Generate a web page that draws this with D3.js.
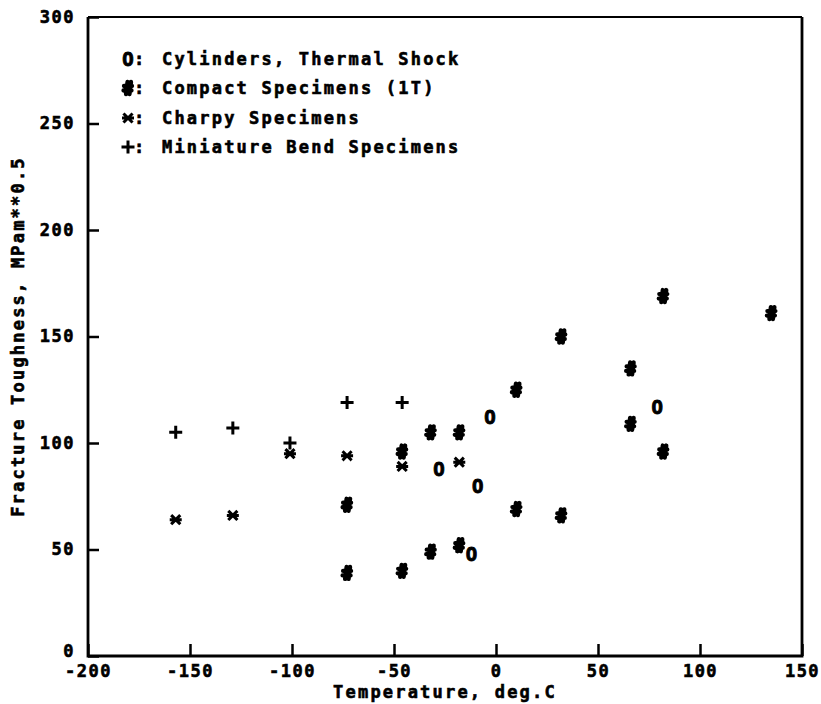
<!DOCTYPE html>
<html>
<head>
<meta charset="utf-8">
<script src="https://cdn.jsdelivr.net/npm/d3@7"></script>
<style>
  body { margin: 0; background: #fff; }
  text { font-family: "DejaVu Sans Mono", monospace; font-weight: bold; fill: #000; stroke: #000; stroke-width: 0.6px; }
</style>
</head>
<body>
<div id="chart"></div>
<script>
// Values (temperature in deg.C, toughness in MPa m^0.5)
const cylinderTemp = [-3, -28, -9, -12, 79];
const cylinderK = [112, 88, 80, 48, 117];

const compactTemp = [-73, -73, -46, -46, -32, -32, -18, -18, 10, 10, 32, 32, 66, 66, 82, 82, 135];
const compactK = [39, 71, 40, 96, 49, 105, 52, 105, 69, 125, 66, 150, 109, 135, 96, 169, 161];

const charpyTemp = [-157, -129, -101, -73, -46, -18];
const charpyK = [64, 66, 95, 94, 89, 91];

const miniTemp = [-157, -129, -101, -73, -46];
const miniK = [105, 107, 100, 119, 119];

const xTicks = [-200, -150, -100, -50, 0, 50, 100, 150];
const yTicks = [0, 50, 100, 150, 200, 250, 300];

const legendLabels = ["Cylinders, Thermal Shock", "Compact Specimens (1T)", "Charpy Specimens", "Miniature Bend Specimens"];
const legendKeys = ["O", "#", "*", "+"];

const width = 821, height = 704;
const plotLeft = 88, plotRight = 802, plotTop = 17, plotBottom = 656;

const svg = d3.select("#chart").append("svg")
  .attr("width", width)
  .attr("height", height);

const x = d3.scaleLinear().domain([-200, 150]).range([plotLeft, plotRight]);
const y = d3.scaleLinear().domain([0, 300]).range([plotBottom, plotTop]);

const tickFont = g => g.selectAll("text")
  .style("font-size", "17px")
  .style("letter-spacing", "1.5px");

// axes: ticks point into the plot
svg.append("g")
  .attr("transform", `translate(0,${plotBottom})`)
  .call(d3.axisBottom(x).tickValues(xTicks).tickSize(-12).tickSizeOuter(0).tickPadding(9).tickFormat(d => d))
  .call(g => g.select(".domain").remove())
  .call(g => g.selectAll("line").attr("stroke", "#000").attr("stroke-width", 2.5))
  .call(tickFont);

svg.append("g")
  .attr("transform", `translate(${plotLeft},0)`)
  .call(d3.axisLeft(y).tickValues(yTicks).tickSize(-11).tickSizeOuter(0).tickPadding(13))
  .call(g => g.select(".domain").remove())
  .call(g => g.selectAll("line").attr("stroke", "#000").attr("stroke-width", 2.5))
  .call(tickFont)
  // the "0" label sits just above the "-200" label, as in the original
  .call(g => g.selectAll(".tick").filter(d => d === 0).select("text").attr("dy", "0em"));

// frame
svg.append("path")
  .attr("d", `M${plotLeft},${plotTop}H${plotRight}`)
  .attr("stroke", "#000").attr("stroke-width", 2);
svg.append("path")
  .attr("d", `M${plotLeft},${plotTop}V${plotBottom}H${plotRight}V${plotTop}`)
  .attr("fill", "none")
  .attr("stroke", "#000").attr("stroke-width", 2.8);

// axis titles
svg.append("text")
  .attr("x", (plotLeft + plotRight) / 2)
  .attr("y", 698)
  .attr("text-anchor", "middle")
  .style("font-size", "17px")
  .style("letter-spacing", "2.2px")
  .text("Temperature, deg.C");

svg.append("text")
  .attr("transform", `translate(24,${(plotTop + plotBottom) / 2}) rotate(-90)`)
  .attr("text-anchor", "middle")
  .style("font-size", "17px")
  .style("letter-spacing", "2.2px")
  .text("Fracture Toughness, MPam**0.5");

// marker shapes
const markerPath = {
  "#": "M-0.5,-6L-2,6M3,-6L1.5,6M-4,-2H4M-4.5,2.5H3.5",
  "*": "M-3.5,-3.5L3.5,3.5M3.5,-3.5L-3.5,3.5M-4.5,0H4.5",
  "+": "M-5,0H5M0,-5V5"
};

function drawMarker(sel, key, px, py) {
  if (key === "O") {
    sel.append("text")
      .attr("x", px).attr("y", py)
      .attr("text-anchor", "middle")
      .attr("dominant-baseline", "central")
      .style("font-size", "19px")
      .style("stroke-width", "0.9px")
      .text("O");
  } else {
    sel.append("path")
      .attr("transform", `translate(${px},${py})`)
      .attr("d", markerPath[key])
      .attr("fill", "none")
      .attr("stroke", "#000")
      .attr("stroke-width", key === "#" ? 4.3 : 3)
      .attr("stroke-linecap", key === "#" ? "round" : "square");
  }
}

const series = [
  { key: "O", t: cylinderTemp, k: cylinderK },
  { key: "#", t: compactTemp, k: compactK },
  { key: "*", t: charpyTemp, k: charpyK },
  { key: "+", t: miniTemp, k: miniK }
];

const pts = svg.append("g");
series.forEach(s => {
  s.t.forEach((t, i) => drawMarker(pts, s.key, x(t), y(s.k[i])));
});

// legend
const legend = svg.append("g");
const legendY = [59, 88, 118, 147];
legendKeys.forEach((key, i) => {
  drawMarker(legend, key, 128, legendY[i]);
  legend.append("text")
    .attr("x", 134).attr("y", legendY[i])
    .attr("dominant-baseline", "central")
    .style("font-size", "17px")
    .text(":");
  legend.append("text")
    .attr("x", 162).attr("y", legendY[i])
    .attr("dominant-baseline", "central")
    .style("font-size", "17px")
    .style("letter-spacing", "2.2px")
    .text(legendLabels[i]);
});
</script>
</body>
</html>
